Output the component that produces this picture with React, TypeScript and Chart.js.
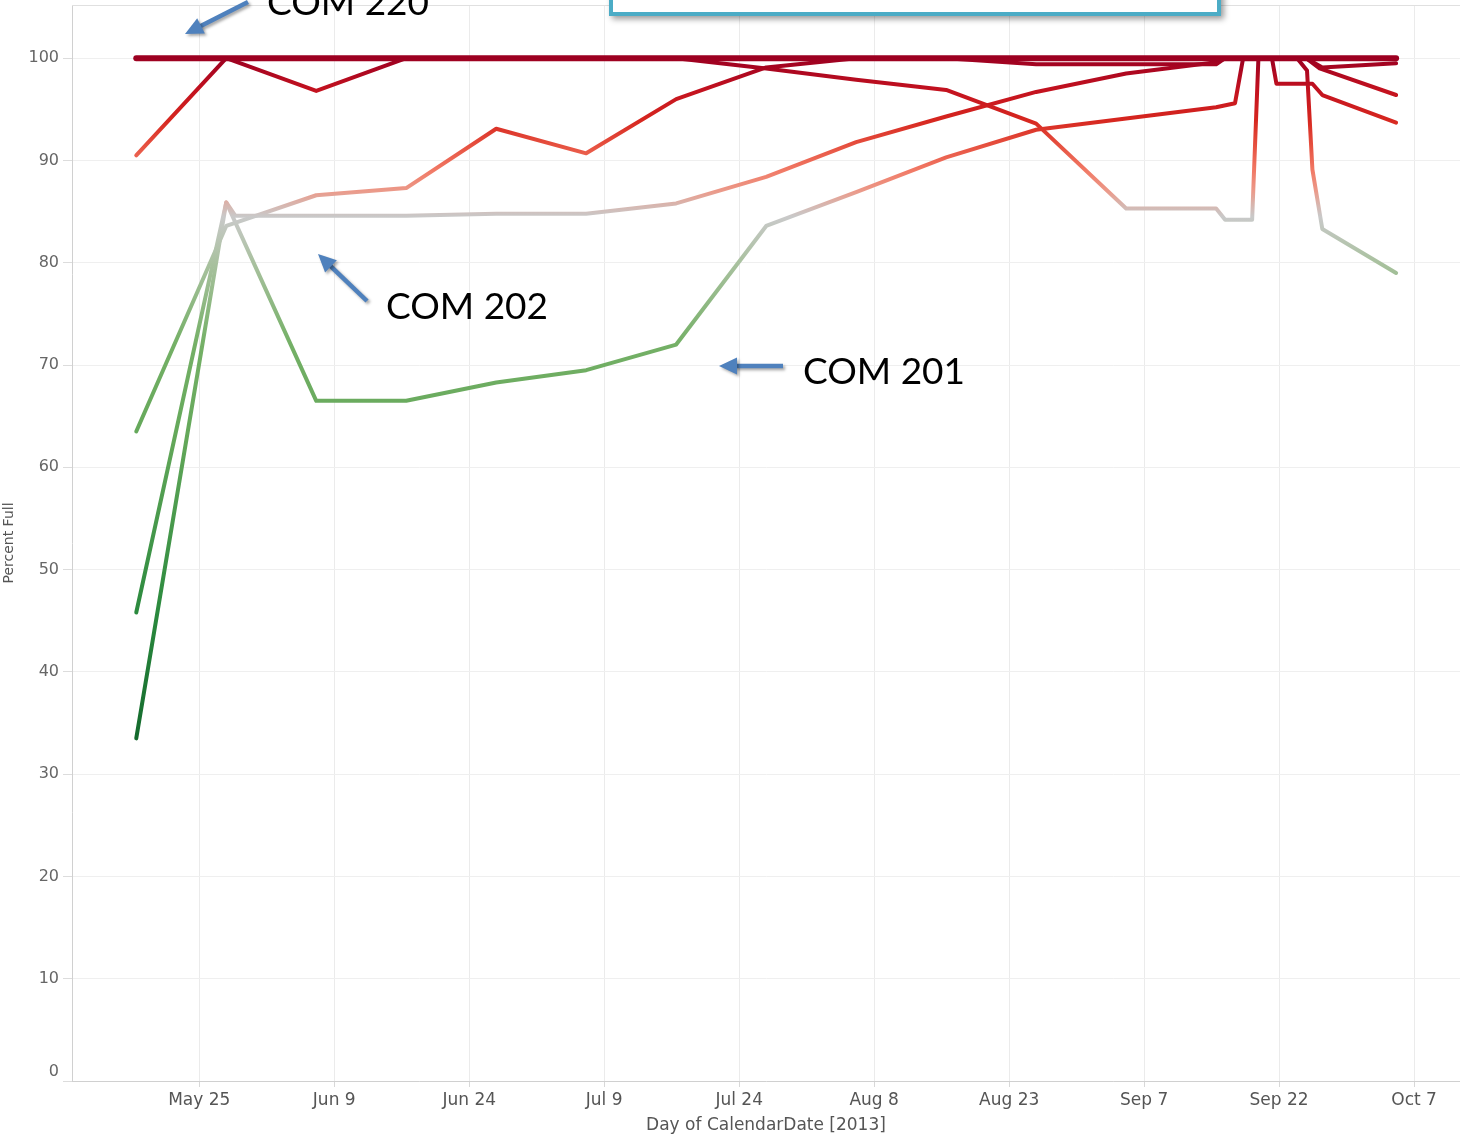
import React, { useEffect, useRef } from "react";
import { Chart, registerables } from "chart.js";

Chart.register(...registerables);

// ---- Axis ticks (x values are days since May 25, 2013) ----
const xTickDays = [0, 15, 30, 45, 60, 75, 90, 105, 120, 135];
const xTickLabels = ["May 25", "Jun 9", "Jun 24", "Jul 9", "Jul 24", "Aug 8", "Aug 23", "Sep 7", "Sep 22", "Oct 7"];
const yTicks = [0, 10, 20, 30, 40, 50, 60, 70, 80, 90, 100];

// ---- Series (days since May 25, 2013 / percent full) ----
const com220Days = [-7, 3, 13, 23, 33, 43, 53, 63, 73, 83, 93, 103, 113, 123, 133];
const com220Pct = [100, 100, 100, 100, 100, 100, 100, 100, 100, 100, 100, 100, 100, 100, 100];

const lineDDays = [-7, 3, 13, 23, 33, 43, 53, 63, 73, 83, 93, 103, 113, 114, 117, 117.7, 123, 124.5, 133];
const lineDPct = [90.5, 100, 96.8, 100, 100, 100, 100, 99.0, 97.9, 96.9, 93.6, 85.3, 85.3, 84.2, 84.2, 100, 100, 99.0, 96.4];

const lineEDays = [-7, 3, 13, 23, 33, 43, 53, 63, 73, 83, 93, 103, 113, 114, 119.2, 119.7, 123.7, 124.8, 133];
const lineEPct = [63.5, 83.6, 86.6, 87.3, 93.1, 90.7, 96.0, 99.1, 100, 100, 99.4, 99.4, 99.4, 100, 100, 97.5, 97.5, 96.4, 93.7];

const com202Days = [-7, 3, 4, 13, 23, 33, 43, 53, 63, 73, 83, 93, 103, 113, 114, 122, 123.1, 123.7, 124.8, 133];
const com202Pct = [33.5, 85.9, 84.6, 84.6, 84.6, 84.8, 84.8, 85.8, 88.4, 91.8, 94.3, 96.7, 98.5, 99.6, 100, 100, 98.8, 89.1, 83.3, 79.0];

const com201Days = [-7, 3, 13, 23, 33, 43, 53, 63, 73, 83, 93, 103, 113, 115.1, 116, 123, 124.8, 133];
const com201Pct = [45.8, 85.9, 66.5, 66.5, 68.3, 69.5, 72.0, 83.6, 86.9, 90.3, 93.0, 94.1, 95.2, 95.6, 100, 100, 99.1, 99.5];

// ---- Value-based colour scale ----
const colorStopValues = [30, 46, 63, 72, 80, 84.5, 85.8, 87, 89, 91.5, 94, 97, 100];
const colorStopColors = ["#0d6128", "#2b8a3e", "#64a85a", "#74b066", "#a9c19f", "#c9c9c9", "#d9b3ab", "#eb9a8a", "#f17a66", "#e6503f", "#d6261f", "#c2111f", "#9c0021"];

const valueGradient = (ctx: any) => {
  const chart = ctx.chart;
  const { chartArea, scales } = chart;
  if (!chartArea || !scales.y) return "#9c0021";
  const y0 = scales.y.getPixelForValue(0);
  const y1 = scales.y.getPixelForValue(100);
  const g = chart.ctx.createLinearGradient(0, y0, 0, y1);
  colorStopValues.forEach((v, i) => g.addColorStop(v / 100, colorStopColors[i]));
  return g;
};

const mkData = (days: number[], pct: number[]) => days.map((d, i) => ({ x: d, y: pct[i] }));

function drawArrow(c: CanvasRenderingContext2D, x1: number, y1: number, x2: number, y2: number) {
  const ang = Math.atan2(y2 - y1, x2 - x1);
  const cos = Math.cos(ang), sin = Math.sin(ang);
  const head = 18, hw = 8.5;
  const bx = x2 - head * cos, by = y2 - head * sin;
  c.save();
  c.shadowColor = "rgba(0,0,0,0.35)";
  c.shadowBlur = 3;
  c.shadowOffsetX = 2;
  c.shadowOffsetY = 2;
  c.strokeStyle = "#4f81bd";
  c.fillStyle = "#4f81bd";
  c.lineWidth = 4.5;
  c.beginPath();
  c.moveTo(x1, y1);
  c.lineTo(bx + 2 * cos, by + 2 * sin);
  c.stroke();
  c.beginPath();
  c.moveTo(x2, y2);
  c.lineTo(bx + hw * sin, by - hw * cos);
  c.lineTo(bx - hw * sin, by + hw * cos);
  c.closePath();
  c.fill();
  c.restore();
}

const annotationPlugin = {
  id: "annotations",
  beforeDatasetsDraw(chart: any) {
    const { ctx: c, chartArea } = chart;
    c.save();
    c.strokeStyle = "#e0e0e0";
    c.lineWidth = 1;
    c.beginPath();
    c.moveTo(chartArea.left, chartArea.top + 0.5);
    c.lineTo(chartArea.right, chartArea.top + 0.5);
    c.stroke();
    c.restore();
  },
  afterDraw(chart: any) {
    const c: CanvasRenderingContext2D = chart.ctx;
    // teal callout box (cut off at top)
    c.save();
    c.shadowColor = "rgba(0,0,0,0.4)";
    c.shadowBlur = 6;
    c.shadowOffsetX = 3;
    c.shadowOffsetY = 3;
    c.fillStyle = "#ffffff";
    c.fillRect(609, -40, 612, 56);
    c.restore();
    c.save();
    c.strokeStyle = "#4bacc6";
    c.lineWidth = 4;
    c.strokeRect(611, -40, 608, 54);
    c.restore();

    // arrows
    drawArrow(c, 248, 2, 185, 34);
    drawArrow(c, 367, 301, 318, 254);
    drawArrow(c, 783, 366, 719, 366);

    // labels
    c.save();
    c.fillStyle = "#000000";
    c.font = "37px Lato";
    c.textBaseline = "alphabetic";
    c.textAlign = "left";
    c.fillText("COM 220", 267, 15);
    c.fillText("COM 202", 386, 319);
    c.fillText("COM 201", 803, 384);
    c.restore();
  },
};

export default function App() {
  const canvasRef = useRef<HTMLCanvasElement | null>(null);

  useEffect(() => {
    if (!canvasRef.current) return;
    Chart.defaults.font.family = "'DejaVu Sans', sans-serif";
    const common = {
      borderColor: valueGradient,
      borderWidth: 4,
      pointRadius: 0,
      pointHoverRadius: 0,
      tension: 0,
      fill: false,
      borderCapStyle: "round",
      borderJoinStyle: "round",
    };
    const chart = new Chart(canvasRef.current, {
      type: "line",
      data: {
        datasets: [
          { ...common, label: "COM 220", data: mkData(com220Days, com220Pct), borderWidth: 6 },
          { ...common, label: "Line D", data: mkData(lineDDays, lineDPct) },
          { ...common, label: "Line E", data: mkData(lineEDays, lineEPct) },
          { ...common, label: "COM 201", data: mkData(com201Days, com201Pct) },
          { ...common, label: "COM 202", data: mkData(com202Days, com202Pct) },
        ] as any,
      },
      options: {
        responsive: false,
        animation: false,
        devicePixelRatio: 1,
        layout: { padding: { top: 5, right: 0, left: 0, bottom: 0 } },
        plugins: { legend: { display: false }, tooltip: { enabled: false } },
        scales: {
          x: {
            type: "linear",
            min: -14.14,
            max: 140.1,
            afterBuildTicks: (scale: any) => {
              scale.ticks = xTickDays.map((v) => ({ value: v }));
            },
            afterFit: (scale: any) => {
              scale.height = 57;
              scale.paddingLeft = 0;
              scale.paddingRight = 0;
            },
            grid: { color: "#ebebeb", tickColor: "#d8d8d8", tickLength: 6, lineWidth: 1 },
            border: { display: true, color: "#d0d0d0" },
            ticks: {
              autoSkip: false,
              maxRotation: 0,
              padding: 3,
              color: "#555555",
              font: { size: 17 },
              callback: (v: any) => {
                const i = xTickDays.indexOf(Number(v));
                return i >= 0 ? xTickLabels[i] : "";
              },
            },
            title: {
              display: true,
              text: "Day of CalendarDate [2013]",
              color: "#555555",
              font: { size: 17 },
              padding: { top: 0, bottom: 2 },
            },
          },
          y: {
            type: "linear",
            min: 0,
            max: 105.2,
            afterBuildTicks: (scale: any) => {
              scale.ticks = yTicks.map((v) => ({ value: v }));
            },
            afterFit: (scale: any) => {
              scale.width = 72;
              scale.paddingTop = 0;
              scale.paddingBottom = 0;
            },
            grid: { color: "#efefef", tickColor: "#dcdcdc", tickLength: 9, lineWidth: 1 },
            border: { display: true, color: "#d0d0d0" },
            ticks: {
              padding: 4,
              color: "#666666",
              font: { size: 16 },
              callback: (v: any) => (Number(v) === 0 ? ["0", ""] : String(v)),
            },
            title: {
              display: true,
              text: "Percent Full",
              color: "#555555",
              font: { size: 14 },
              padding: { top: 1, bottom: 0 },
            },
          },
        },
      } as any,
      plugins: [annotationPlugin],
    });
    return () => chart.destroy();
  }, []);

  return (
    <div style={{ position: "fixed", left: 0, top: 0, width: 1460, height: 1138, background: "#fff" }}>
      <canvas ref={canvasRef} width={1460} height={1138} style={{ display: "block" }} />
    </div>
  );
}
